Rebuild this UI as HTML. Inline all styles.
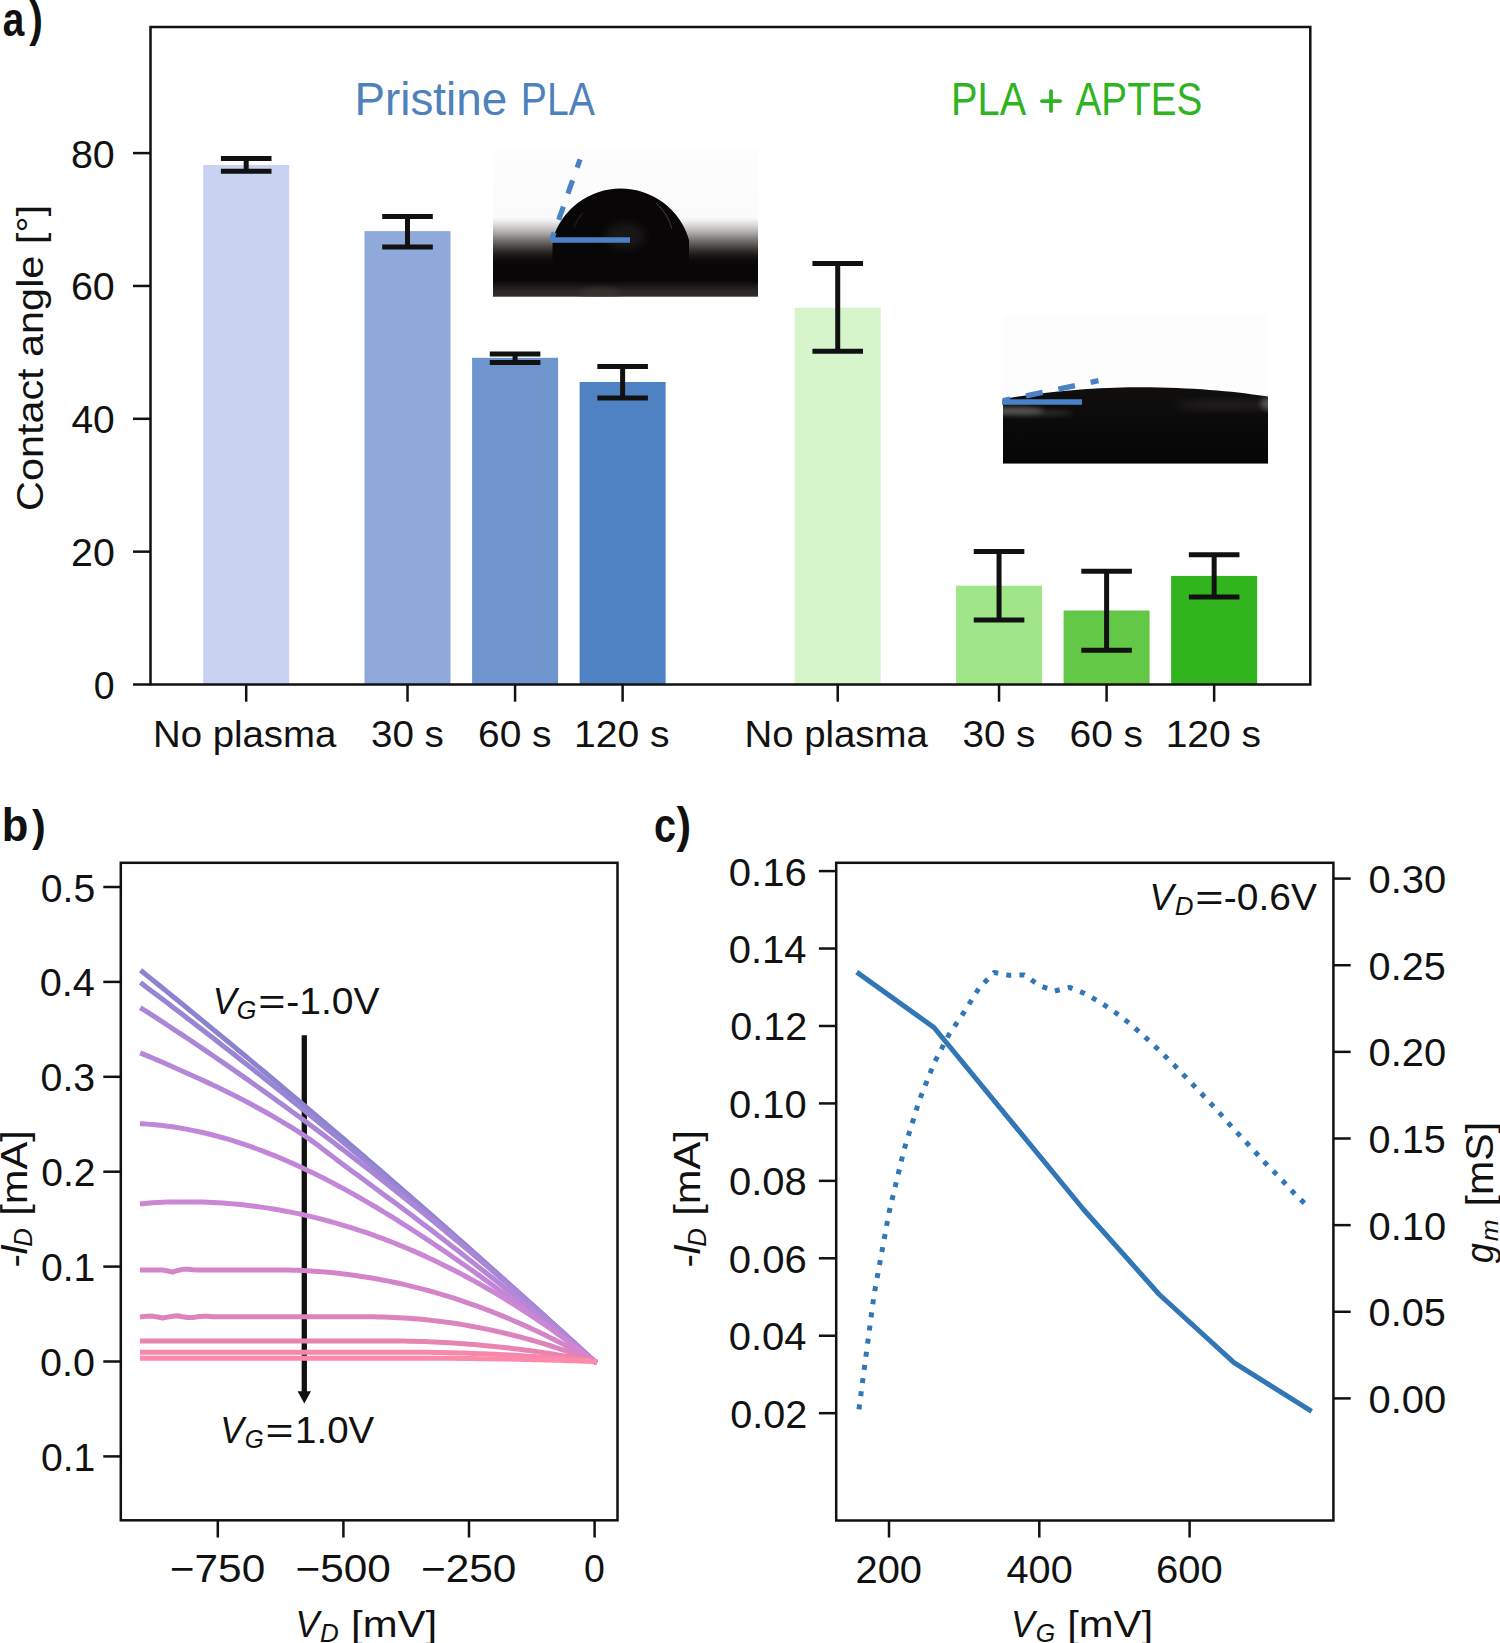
<!DOCTYPE html>
<html><head><meta charset="utf-8"><title>Figure</title>
<style>html,body{margin:0;padding:0;background:#fff;overflow:hidden}svg{display:block}</style>
</head><body>
<svg width="1500" height="1643" viewBox="0 0 1500 1643">
<rect width="1500" height="1643" fill="#ffffff"/>
<rect x="203.20" y="165.00" width="86.00" height="519.50" fill="#c9d3f1"/>
<rect x="364.52" y="231.10" width="86.00" height="453.40" fill="#8fa9da"/>
<rect x="472.08" y="357.80" width="86.00" height="326.70" fill="#6f95cf"/>
<rect x="579.62" y="382.00" width="86.00" height="302.50" fill="#4f82c3"/>
<rect x="794.72" y="307.70" width="86.00" height="376.80" fill="#d6f5cb"/>
<rect x="956.05" y="585.70" width="86.00" height="98.80" fill="#a1e589"/>
<rect x="1063.60" y="610.50" width="86.00" height="74.00" fill="#64c847"/>
<rect x="1171.15" y="575.90" width="86.00" height="108.60" fill="#32b41f"/>
<defs>
<linearGradient id="g1" x1="0" y1="0" x2="0" y2="1">
<stop offset="0.000" stop-color="#fdfdfd"/>
<stop offset="0.467" stop-color="#fbfbfb"/>
<stop offset="0.502" stop-color="#e6e6e6"/>
<stop offset="0.542" stop-color="#c6c3c2"/>
<stop offset="0.577" stop-color="#a6a3a1"/>
<stop offset="0.612" stop-color="#7f7b79"/>
<stop offset="0.647" stop-color="#5c5856"/>
<stop offset="0.682" stop-color="#393533"/>
<stop offset="0.717" stop-color="#1d1a19"/>
<stop offset="0.757" stop-color="#0c0a0a"/>
<stop offset="0.797" stop-color="#080606"/>
<stop offset="0.890" stop-color="#080606"/>
<stop offset="0.925" stop-color="#1a1716"/>
<stop offset="0.960" stop-color="#2a2625"/>
<stop offset="1.000" stop-color="#312d2b"/>
</linearGradient>
<radialGradient id="glow1" cx="0.5" cy="0.5" r="0.5">
<stop offset="0" stop-color="#2a2827"/>
<stop offset="1" stop-color="#2a2827" stop-opacity="0"/>
</radialGradient>
<linearGradient id="g2" x1="0" y1="0" x2="0" y2="1">
<stop offset="0" stop-color="#fdfdfd"/>
<stop offset="1" stop-color="#fdfdfd"/>
</linearGradient>
<linearGradient id="refl2" x1="0" y1="0" x2="1" y2="0">
<stop offset="0" stop-color="#8a8685" stop-opacity="0.9"/>
<stop offset="0.35" stop-color="#5a5655" stop-opacity="0.6"/>
<stop offset="1" stop-color="#2a2625" stop-opacity="0"/>
</linearGradient>
<linearGradient id="refl2r" x1="1" y1="0" x2="0" y2="0">
<stop offset="0" stop-color="#6a6665" stop-opacity="0.8"/>
<stop offset="0.25" stop-color="#2a2625" stop-opacity="0.5"/>
<stop offset="1" stop-color="#2a2625" stop-opacity="0"/>
</linearGradient>
<filter color-interpolation-filters="sRGB" id="bl07" x="-5%" y="-5%" width="110%" height="110%"><feGaussianBlur stdDeviation="0.7"/></filter>
<filter color-interpolation-filters="sRGB" id="bl25" x="-50%" y="-50%" width="200%" height="200%"><feGaussianBlur stdDeviation="2.5"/></filter>
<filter color-interpolation-filters="sRGB" id="bl4" x="-50%" y="-50%" width="200%" height="200%"><feGaussianBlur stdDeviation="4"/></filter>
<linearGradient id="drop2" gradientUnits="userSpaceOnUse" x1="0" y1="387" x2="0" y2="464">
<stop offset="0" stop-color="#100f0e"/><stop offset="0.5" stop-color="#0b0a0a"/><stop offset="1" stop-color="#070606"/></linearGradient>
<clipPath id="clip1"><rect x="493" y="148" width="265" height="148.7"/></clipPath>
<clipPath id="clip2"><rect x="1003" y="315" width="265" height="148.8"/></clipPath>
</defs>
<rect x="493.00" y="148.00" width="265.00" height="148.70" fill="url(#g1)"/>
<g clip-path="url(#clip1)">
<path d="M552.5,275 L552.5,240 A71,71 0 0 1 689.0,240 L689.0,275 Z" fill="#080606" filter="url(#bl07)"/>
<ellipse cx="625" cy="236" rx="20" ry="13" fill="#262423" opacity="0.6" filter="url(#bl4)"/>
<path d="M656,203 Q668,214 672,229" fill="none" stroke="#5a5656" stroke-width="1.1" opacity="0.55"/>
<path d="M574,228 Q577,219 583,213" fill="none" stroke="#3a3636" stroke-width="1.1" opacity="0.5"/>
<ellipse cx="600" cy="294" rx="22" ry="6" fill="#3a3634" opacity="0.8" filter="url(#bl25)"/>
</g>
<line x1="551.00" y1="240.00" x2="630.00" y2="240.00" stroke="#4a82c7" stroke-width="5.4" stroke-linecap="butt" />
<line x1="551.80" y1="239.30" x2="580.04" y2="159.33" stroke="#4a82c7" stroke-width="5.2" stroke-linecap="butt" stroke-dasharray="14 13.7" stroke-dashoffset="7"/>
<rect x="1003.00" y="315.00" width="265.00" height="148.80" fill="#fdfdfd"/>
<g clip-path="url(#clip2)">
<path d="M1003,399 C1060,388.5 1120,386.7 1150,387.2 C1200,388 1240,392 1268,396.6 L1268,463.8 L1003,463.8 Z" fill="url(#drop2)" filter="url(#bl07)"/>
<ellipse cx="1014" cy="411" rx="30" ry="4" fill="#8a8685" opacity="0.6" filter="url(#bl25)"/>
<ellipse cx="1045" cy="413" rx="28" ry="3" fill="#5a5655" opacity="0.4" filter="url(#bl25)"/>
<ellipse cx="1270" cy="404" rx="10" ry="6" fill="#8a8685" opacity="0.7" filter="url(#bl25)"/>
<ellipse cx="1225" cy="405" rx="50" ry="4" fill="#2c2a29" opacity="0.8" filter="url(#bl4)"/>
</g>
<line x1="1002.00" y1="402.00" x2="1082.00" y2="402.00" stroke="#4a82c7" stroke-width="5.5" stroke-linecap="butt" />
<line x1="1003.00" y1="400.60" x2="1098.45" y2="380.71" stroke="#4a82c7" stroke-width="5.4" stroke-linecap="butt" stroke-dasharray="17 16" stroke-dashoffset="9.5"/>
<line x1="246.20" y1="158.50" x2="246.20" y2="171.30" stroke="#111111" stroke-width="5.0" stroke-linecap="butt" />
<line x1="220.90" y1="158.50" x2="271.50" y2="158.50" stroke="#111111" stroke-width="5.0" stroke-linecap="butt" />
<line x1="220.90" y1="171.30" x2="271.50" y2="171.30" stroke="#111111" stroke-width="5.0" stroke-linecap="butt" />
<line x1="407.52" y1="216.50" x2="407.52" y2="247.00" stroke="#111111" stroke-width="5.0" stroke-linecap="butt" />
<line x1="382.22" y1="216.50" x2="432.82" y2="216.50" stroke="#111111" stroke-width="5.0" stroke-linecap="butt" />
<line x1="382.22" y1="247.00" x2="432.82" y2="247.00" stroke="#111111" stroke-width="5.0" stroke-linecap="butt" />
<line x1="515.08" y1="353.90" x2="515.08" y2="362.50" stroke="#111111" stroke-width="5.0" stroke-linecap="butt" />
<line x1="489.78" y1="353.90" x2="540.38" y2="353.90" stroke="#111111" stroke-width="5.0" stroke-linecap="butt" />
<line x1="489.78" y1="362.50" x2="540.38" y2="362.50" stroke="#111111" stroke-width="5.0" stroke-linecap="butt" />
<line x1="622.62" y1="366.50" x2="622.62" y2="398.00" stroke="#111111" stroke-width="5.0" stroke-linecap="butt" />
<line x1="597.33" y1="366.50" x2="647.92" y2="366.50" stroke="#111111" stroke-width="5.0" stroke-linecap="butt" />
<line x1="597.33" y1="398.00" x2="647.92" y2="398.00" stroke="#111111" stroke-width="5.0" stroke-linecap="butt" />
<line x1="837.72" y1="263.60" x2="837.72" y2="351.30" stroke="#111111" stroke-width="5.0" stroke-linecap="butt" />
<line x1="812.42" y1="263.60" x2="863.02" y2="263.60" stroke="#111111" stroke-width="5.0" stroke-linecap="butt" />
<line x1="812.42" y1="351.30" x2="863.02" y2="351.30" stroke="#111111" stroke-width="5.0" stroke-linecap="butt" />
<line x1="999.05" y1="551.50" x2="999.05" y2="620.00" stroke="#111111" stroke-width="5.0" stroke-linecap="butt" />
<line x1="973.75" y1="551.50" x2="1024.35" y2="551.50" stroke="#111111" stroke-width="5.0" stroke-linecap="butt" />
<line x1="973.75" y1="620.00" x2="1024.35" y2="620.00" stroke="#111111" stroke-width="5.0" stroke-linecap="butt" />
<line x1="1106.60" y1="571.20" x2="1106.60" y2="650.20" stroke="#111111" stroke-width="5.0" stroke-linecap="butt" />
<line x1="1081.30" y1="571.20" x2="1131.90" y2="571.20" stroke="#111111" stroke-width="5.0" stroke-linecap="butt" />
<line x1="1081.30" y1="650.20" x2="1131.90" y2="650.20" stroke="#111111" stroke-width="5.0" stroke-linecap="butt" />
<line x1="1214.15" y1="554.70" x2="1214.15" y2="597.10" stroke="#111111" stroke-width="5.0" stroke-linecap="butt" />
<line x1="1188.85" y1="554.70" x2="1239.45" y2="554.70" stroke="#111111" stroke-width="5.0" stroke-linecap="butt" />
<line x1="1188.85" y1="597.10" x2="1239.45" y2="597.10" stroke="#111111" stroke-width="5.0" stroke-linecap="butt" />
<rect x="150.50" y="27.00" width="1159.80" height="657.50" fill="none" stroke="#111111" stroke-width="2.5"/>
<line x1="133.00" y1="684.50" x2="150.50" y2="684.50" stroke="#111" stroke-width="2.5" stroke-linecap="butt" />
<text font-family="Liberation Sans, sans-serif" font-size="38.43" fill="#111111" transform="translate(93.82,699.00) scale(0.9746,1)">0</text>
<line x1="133.00" y1="551.65" x2="150.50" y2="551.65" stroke="#111" stroke-width="2.5" stroke-linecap="butt" />
<text font-family="Liberation Sans, sans-serif" font-size="38.43" fill="#111111" transform="translate(71.11,566.15) scale(1.0213,1)">20</text>
<line x1="133.00" y1="418.80" x2="150.50" y2="418.80" stroke="#111" stroke-width="2.5" stroke-linecap="butt" />
<text font-family="Liberation Sans, sans-serif" font-size="38.43" fill="#111111" transform="translate(71.40,433.30) scale(1.0142,1)">40</text>
<line x1="133.00" y1="285.95" x2="150.50" y2="285.95" stroke="#111" stroke-width="2.5" stroke-linecap="butt" />
<text font-family="Liberation Sans, sans-serif" font-size="38.43" fill="#111111" transform="translate(70.92,300.45) scale(1.0258,1)">60</text>
<line x1="133.00" y1="153.10" x2="150.50" y2="153.10" stroke="#111" stroke-width="2.5" stroke-linecap="butt" />
<text font-family="Liberation Sans, sans-serif" font-size="38.43" fill="#111111" transform="translate(70.94,167.60) scale(1.0253,1)">80</text>
<line x1="246.20" y1="684.50" x2="246.20" y2="701.70" stroke="#111" stroke-width="2.5" stroke-linecap="butt" />
<text font-family="Liberation Sans, sans-serif" font-size="37.10" fill="#111111" transform="translate(153.02,747.20) scale(1.0335,1)">No plasma</text>
<line x1="407.52" y1="684.50" x2="407.52" y2="701.70" stroke="#111" stroke-width="2.5" stroke-linecap="butt" />
<text font-family="Liberation Sans, sans-serif" font-size="37.10" fill="#111111" transform="translate(370.96,747.20) scale(1.0402,1)">30 s</text>
<line x1="515.08" y1="684.50" x2="515.08" y2="701.70" stroke="#111" stroke-width="2.5" stroke-linecap="butt" />
<text font-family="Liberation Sans, sans-serif" font-size="37.10" fill="#111111" transform="translate(478.02,747.20) scale(1.0486,1)">60 s</text>
<line x1="622.62" y1="684.50" x2="622.62" y2="701.70" stroke="#111" stroke-width="2.5" stroke-linecap="butt" />
<text font-family="Liberation Sans, sans-serif" font-size="37.10" fill="#111111" transform="translate(574.11,747.20) scale(1.0524,1)">120 s</text>
<line x1="837.72" y1="684.50" x2="837.72" y2="701.70" stroke="#111" stroke-width="2.5" stroke-linecap="butt" />
<text font-family="Liberation Sans, sans-serif" font-size="37.10" fill="#111111" transform="translate(744.55,747.20) scale(1.0335,1)">No plasma</text>
<line x1="999.05" y1="684.50" x2="999.05" y2="701.70" stroke="#111" stroke-width="2.5" stroke-linecap="butt" />
<text font-family="Liberation Sans, sans-serif" font-size="37.10" fill="#111111" transform="translate(962.48,747.20) scale(1.0402,1)">30 s</text>
<line x1="1106.60" y1="684.50" x2="1106.60" y2="701.70" stroke="#111" stroke-width="2.5" stroke-linecap="butt" />
<text font-family="Liberation Sans, sans-serif" font-size="37.10" fill="#111111" transform="translate(1069.54,747.20) scale(1.0486,1)">60 s</text>
<line x1="1214.15" y1="684.50" x2="1214.15" y2="701.70" stroke="#111" stroke-width="2.5" stroke-linecap="butt" />
<text font-family="Liberation Sans, sans-serif" font-size="37.10" fill="#111111" transform="translate(1165.64,747.20) scale(1.0524,1)">120 s</text>
<text font-family="Liberation Sans, sans-serif" font-size="37.29" fill="#111111" transform="translate(43.10,510.97) rotate(-90) scale(1.1100,1)">Contact angle [°]</text>
<text font-family="Liberation Sans, sans-serif" font-size="46.52" fill="#4f81bd" transform="translate(354.43,115.40) scale(0.9850,1)">Pristine</text>
<text font-family="Liberation Sans, sans-serif" font-size="46.52" fill="#4f81bd" transform="translate(520.77,115.40) scale(0.8420,1)">PLA</text>
<text font-family="Liberation Sans, sans-serif" font-size="46.38" fill="#2fb320" transform="translate(951.02,115.40) scale(0.8577,1)">PLA</text>
<line x1="1041.90" y1="101.10" x2="1060.10" y2="101.10" stroke="#2fb320" stroke-width="3.8" stroke-linecap="round" />
<line x1="1051.00" y1="91.10" x2="1051.00" y2="110.90" stroke="#2fb320" stroke-width="3.8" stroke-linecap="round" />
<text font-family="Liberation Sans, sans-serif" font-size="46.38" fill="#2fb320" transform="translate(1075.60,115.40) scale(0.8331,1)">APTES</text>
<text font-family="Liberation Sans, sans-serif" font-size="47.41" fill="#111111" font-weight="bold" transform="translate(2.84,36.30) scale(0.8162,1)">a</text>
<text font-family="Liberation Sans, sans-serif" font-size="50.07" fill="#111111" font-weight="bold" transform="translate(29.30,36.30) scale(0.8199,1)">)</text>
<rect x="120.80" y="862.80" width="496.70" height="657.50" fill="none" stroke="#111111" stroke-width="2.5"/>
<line x1="103.30" y1="887.00" x2="120.80" y2="887.00" stroke="#111" stroke-width="2.5" stroke-linecap="butt" />
<text font-family="Liberation Sans, sans-serif" font-size="38.43" fill="#111111" transform="translate(40.77,901.50) scale(1.0183,1)">0.5</text>
<line x1="103.30" y1="981.90" x2="120.80" y2="981.90" stroke="#111" stroke-width="2.5" stroke-linecap="butt" />
<text font-family="Liberation Sans, sans-serif" font-size="38.43" fill="#111111" transform="translate(39.68,996.40) scale(1.0317,1)">0.4</text>
<line x1="103.30" y1="1076.80" x2="120.80" y2="1076.80" stroke="#111" stroke-width="2.5" stroke-linecap="butt" />
<text font-family="Liberation Sans, sans-serif" font-size="38.43" fill="#111111" transform="translate(40.59,1091.30) scale(1.0219,1)">0.3</text>
<line x1="103.30" y1="1171.70" x2="120.80" y2="1171.70" stroke="#111" stroke-width="2.5" stroke-linecap="butt" />
<text font-family="Liberation Sans, sans-serif" font-size="38.43" fill="#111111" transform="translate(41.31,1186.20) scale(1.0155,1)">0.2</text>
<line x1="103.30" y1="1266.60" x2="120.80" y2="1266.60" stroke="#111" stroke-width="2.5" stroke-linecap="butt" />
<text font-family="Liberation Sans, sans-serif" font-size="38.43" fill="#111111" transform="translate(40.95,1281.10) scale(1.0187,1)">0.1</text>
<line x1="103.30" y1="1361.50" x2="120.80" y2="1361.50" stroke="#111" stroke-width="2.5" stroke-linecap="butt" />
<text font-family="Liberation Sans, sans-serif" font-size="38.43" fill="#111111" transform="translate(40.04,1376.00) scale(1.0285,1)">0.0</text>
<line x1="103.30" y1="1456.40" x2="120.80" y2="1456.40" stroke="#111" stroke-width="2.5" stroke-linecap="butt" />
<text font-family="Liberation Sans, sans-serif" font-size="38.43" fill="#111111" transform="translate(40.95,1470.90) scale(1.0187,1)">0.1</text>
<line x1="217.80" y1="1520.30" x2="217.80" y2="1537.50" stroke="#111" stroke-width="2.5" stroke-linecap="butt" />
<text font-family="Liberation Sans, sans-serif" font-size="38.43" fill="#111111" transform="translate(169.85,1582.30) scale(1.1018,1)">−750</text>
<line x1="343.40" y1="1520.30" x2="343.40" y2="1537.50" stroke="#111" stroke-width="2.5" stroke-linecap="butt" />
<text font-family="Liberation Sans, sans-serif" font-size="38.43" fill="#111111" transform="translate(295.45,1582.30) scale(1.1018,1)">−500</text>
<line x1="469.00" y1="1520.30" x2="469.00" y2="1537.50" stroke="#111" stroke-width="2.5" stroke-linecap="butt" />
<text font-family="Liberation Sans, sans-serif" font-size="38.43" fill="#111111" transform="translate(421.05,1582.30) scale(1.1018,1)">−250</text>
<line x1="594.60" y1="1520.30" x2="594.60" y2="1537.50" stroke="#111" stroke-width="2.5" stroke-linecap="butt" />
<text font-family="Liberation Sans, sans-serif" font-size="38.43" fill="#111111" transform="translate(584.11,1582.30) scale(0.9746,1)">0</text>
<line x1="304.30" y1="1035.30" x2="304.30" y2="1392.00" stroke="#111111" stroke-width="5.3" stroke-linecap="butt" />
<path d="M297.6,1391.3 L311.0,1391.3 L304.3,1403.5 Z" fill="#111111"/>
<path d="M142.44,971.80 L147.46,975.85 L152.49,979.91 L157.51,983.97 L162.54,988.04 L167.56,992.12 L172.58,996.20 L177.61,1000.29 L182.63,1004.39 L187.66,1008.49 L192.68,1012.60 L197.70,1016.71 L202.73,1020.83 L207.75,1024.96 L212.78,1029.09 L217.80,1033.23 L222.82,1037.38 L227.85,1041.53 L232.87,1045.69 L237.90,1049.85 L242.92,1054.02 L247.94,1058.20 L252.97,1062.38 L257.99,1066.57 L263.02,1070.77 L268.04,1074.97 L273.06,1079.18 L278.09,1083.39 L283.11,1087.61 L288.14,1091.84 L293.16,1096.07 L298.18,1100.31 L303.21,1104.56 L308.23,1108.81 L313.26,1113.07 L318.28,1117.33 L323.30,1121.60 L328.33,1125.88 L333.35,1130.16 L338.38,1134.45 L343.40,1138.75 L348.42,1143.05 L353.45,1147.36 L358.47,1151.67 L363.50,1155.99 L368.52,1160.32 L373.54,1164.65 L378.57,1168.99 L383.59,1173.34 L388.62,1177.69 L393.64,1182.05 L398.66,1186.41 L403.69,1190.78 L408.71,1195.16 L413.74,1199.54 L418.76,1203.93 L423.78,1208.33 L428.81,1212.73 L433.83,1217.14 L438.86,1221.55 L443.88,1225.97 L448.90,1230.40 L453.93,1234.83 L458.95,1239.27 L463.98,1243.72 L469.00,1248.17 L474.02,1252.63 L479.05,1257.09 L484.07,1261.56 L489.10,1266.04 L494.12,1270.52 L499.14,1275.01 L504.17,1279.51 L509.19,1284.01 L514.22,1288.52 L519.24,1293.03 L524.26,1297.55 L529.29,1302.08 L534.31,1306.61 L539.34,1311.15 L544.36,1315.70 L549.38,1320.25 L554.41,1324.81 L559.43,1329.37 L564.46,1333.94 L569.48,1338.52 L574.50,1343.10 L579.53,1347.69 L584.55,1352.29 L589.58,1356.89 L594.60,1361.50" fill="none" stroke="#8b83cf" stroke-width="5.0" stroke-linecap="square" stroke-linejoin="round" />
<path d="M142.44,984.10 L147.46,987.88 L152.49,991.67 L157.51,995.46 L162.54,999.27 L167.56,1003.09 L172.58,1006.91 L177.61,1010.75 L182.63,1014.59 L187.66,1018.44 L192.68,1022.31 L197.70,1026.18 L202.73,1030.06 L207.75,1033.95 L212.78,1037.85 L217.80,1041.76 L222.82,1045.68 L227.85,1049.60 L232.87,1053.54 L237.90,1057.49 L242.92,1061.44 L247.94,1065.41 L252.97,1069.38 L257.99,1073.37 L263.02,1077.36 L268.04,1081.36 L273.06,1085.37 L278.09,1089.39 L283.11,1093.42 L288.14,1097.46 L293.16,1101.51 L298.18,1105.57 L303.21,1109.64 L308.23,1113.72 L313.26,1117.80 L318.28,1121.90 L323.30,1126.00 L328.33,1130.12 L333.35,1134.24 L338.38,1138.37 L343.40,1142.51 L348.42,1146.67 L353.45,1150.83 L358.47,1155.00 L363.50,1159.18 L368.52,1163.37 L373.54,1167.56 L378.57,1171.77 L383.59,1175.99 L388.62,1180.21 L393.64,1184.45 L398.66,1188.69 L403.69,1192.95 L408.71,1197.21 L413.74,1201.48 L418.76,1205.76 L423.78,1210.06 L428.81,1214.36 L433.83,1218.67 L438.86,1222.98 L443.88,1227.31 L448.90,1231.65 L453.93,1236.00 L458.95,1240.35 L463.98,1244.72 L469.00,1249.10 L474.02,1253.48 L479.05,1257.87 L484.07,1262.28 L489.10,1266.69 L494.12,1271.11 L499.14,1275.54 L504.17,1279.98 L509.19,1284.43 L514.22,1288.89 L519.24,1293.36 L524.26,1297.84 L529.29,1302.32 L534.31,1306.82 L539.34,1311.32 L544.36,1315.84 L549.38,1320.36 L554.41,1324.90 L559.43,1329.44 L564.46,1333.99 L569.48,1338.55 L574.50,1343.12 L579.53,1347.70 L584.55,1352.29 L589.58,1356.89 L594.60,1361.50" fill="none" stroke="#9985d3" stroke-width="5.0" stroke-linecap="square" stroke-linejoin="round" />
<path d="M142.44,1009.00 L147.46,1012.22 L152.49,1015.45 L157.51,1018.71 L162.54,1021.97 L167.56,1025.25 L172.58,1028.55 L177.61,1031.87 L182.63,1035.19 L187.66,1038.54 L192.68,1041.90 L197.70,1045.28 L202.73,1048.67 L207.75,1052.08 L212.78,1055.50 L217.80,1058.94 L222.82,1062.39 L227.85,1065.86 L232.87,1069.35 L237.90,1072.85 L242.92,1076.37 L247.94,1079.90 L252.97,1083.45 L257.99,1087.01 L263.02,1090.59 L268.04,1094.19 L273.06,1097.80 L278.09,1101.43 L283.11,1105.07 L288.14,1108.73 L293.16,1112.40 L298.18,1116.09 L303.21,1119.79 L308.23,1123.52 L313.26,1127.25 L318.28,1131.00 L323.30,1134.77 L328.33,1138.56 L333.35,1142.35 L338.38,1146.17 L343.40,1150.00 L348.42,1153.85 L353.45,1157.71 L358.47,1161.59 L363.50,1165.48 L368.52,1169.39 L373.54,1173.31 L378.57,1177.25 L383.59,1181.21 L388.62,1185.18 L393.64,1189.17 L398.66,1193.17 L403.69,1197.19 L408.71,1201.22 L413.74,1205.27 L418.76,1209.34 L423.78,1213.42 L428.81,1217.52 L433.83,1221.63 L438.86,1225.76 L443.88,1229.90 L448.90,1234.06 L453.93,1238.23 L458.95,1242.43 L463.98,1246.63 L469.00,1250.85 L474.02,1255.09 L479.05,1259.35 L484.07,1263.61 L489.10,1267.90 L494.12,1272.20 L499.14,1276.52 L504.17,1280.85 L509.19,1285.20 L514.22,1289.56 L519.24,1293.94 L524.26,1298.33 L529.29,1302.74 L534.31,1307.17 L539.34,1311.61 L544.36,1316.07 L549.38,1320.54 L554.41,1325.03 L559.43,1329.53 L564.46,1334.05 L569.48,1338.59 L574.50,1343.14 L579.53,1347.71 L584.55,1352.29 L589.58,1356.89 L594.60,1361.50" fill="none" stroke="#a986d6" stroke-width="5.0" stroke-linecap="square" stroke-linejoin="round" />
<path d="M142.44,1053.80 L147.46,1055.90 L152.49,1058.02 L157.51,1060.16 L162.54,1062.32 L167.56,1064.51 L172.58,1066.71 L177.61,1068.95 L182.63,1071.20 L187.66,1073.46 L192.68,1075.73 L197.70,1078.01 L202.73,1080.30 L207.75,1082.62 L212.78,1084.96 L217.80,1087.34 L222.82,1089.75 L227.85,1092.21 L232.87,1094.71 L237.90,1097.27 L242.92,1099.88 L247.94,1102.53 L252.97,1105.22 L257.99,1107.95 L263.02,1110.72 L268.04,1113.54 L273.06,1116.41 L278.09,1119.34 L283.11,1122.32 L288.14,1125.37 L293.16,1128.48 L298.18,1131.67 L303.21,1134.92 L308.23,1138.30 L313.26,1141.86 L318.28,1145.58 L323.30,1149.39 L328.33,1153.25 L333.35,1157.12 L338.38,1160.94 L343.40,1164.69 L348.42,1168.42 L353.45,1172.14 L358.47,1175.86 L363.50,1179.57 L368.52,1183.28 L373.54,1186.99 L378.57,1190.70 L383.59,1194.41 L388.62,1198.13 L393.64,1201.85 L398.66,1205.59 L403.69,1209.33 L408.71,1213.08 L413.74,1216.85 L418.76,1220.64 L423.78,1224.44 L428.81,1228.27 L433.83,1232.11 L438.86,1235.98 L443.88,1239.86 L448.90,1243.76 L453.93,1247.67 L458.95,1251.59 L463.98,1255.51 L469.00,1259.45 L474.02,1263.40 L479.05,1267.36 L484.07,1271.33 L489.10,1275.31 L494.12,1279.30 L499.14,1283.30 L504.17,1287.31 L509.19,1291.33 L514.22,1295.37 L519.24,1299.41 L524.26,1303.47 L529.29,1307.54 L534.31,1311.62 L539.34,1315.71 L544.36,1319.81 L549.38,1323.92 L554.41,1328.05 L559.43,1332.19 L564.46,1336.34 L569.48,1340.50 L574.50,1344.68 L579.53,1348.86 L584.55,1353.06 L589.58,1357.28 L594.60,1361.50" fill="none" stroke="#b786d8" stroke-width="5.0" stroke-linecap="square" stroke-linejoin="round" />
<path d="M142.44,1123.80 L147.46,1124.12 L152.49,1124.51 L157.51,1124.98 L162.54,1125.53 L167.56,1126.15 L172.58,1126.85 L177.61,1127.62 L182.63,1128.47 L187.66,1129.38 L192.68,1130.37 L197.70,1131.43 L202.73,1132.55 L207.75,1133.75 L212.78,1135.01 L217.80,1136.34 L222.82,1137.73 L227.85,1139.19 L232.87,1140.72 L237.90,1142.30 L242.92,1143.95 L247.94,1145.66 L252.97,1147.43 L257.99,1149.26 L263.02,1151.15 L268.04,1153.10 L273.06,1155.10 L278.09,1157.16 L283.11,1159.27 L288.14,1161.44 L293.16,1163.66 L298.18,1165.94 L303.21,1168.26 L308.23,1170.64 L313.26,1173.07 L318.28,1175.54 L323.30,1178.07 L328.33,1180.64 L333.35,1183.26 L338.38,1185.92 L343.40,1188.63 L348.42,1191.38 L353.45,1194.17 L358.47,1197.01 L363.50,1199.89 L368.52,1202.81 L373.54,1205.76 L378.57,1208.76 L383.59,1211.79 L388.62,1214.86 L393.64,1217.97 L398.66,1221.11 L403.69,1224.28 L408.71,1227.49 L413.74,1230.73 L418.76,1234.00 L423.78,1237.30 L428.81,1240.64 L433.83,1244.00 L438.86,1247.39 L443.88,1250.80 L448.90,1254.24 L453.93,1257.71 L458.95,1261.20 L463.98,1264.72 L469.00,1268.26 L474.02,1271.82 L479.05,1275.40 L484.07,1279.00 L489.10,1282.62 L494.12,1286.26 L499.14,1289.91 L504.17,1293.58 L509.19,1297.27 L514.22,1300.97 L519.24,1304.69 L524.26,1308.42 L529.29,1312.16 L534.31,1315.91 L539.34,1319.67 L544.36,1323.45 L549.38,1327.23 L554.41,1331.02 L559.43,1334.81 L564.46,1338.61 L569.48,1342.42 L574.50,1346.23 L579.53,1350.05 L584.55,1353.86 L589.58,1357.68 L594.60,1361.50" fill="none" stroke="#c286d8" stroke-width="5.0" stroke-linecap="square" stroke-linejoin="round" />
<path d="M142.44,1203.80 L147.46,1203.24 L152.49,1202.79 L157.51,1202.42 L162.54,1202.15 L167.56,1201.98 L172.58,1201.90 L177.61,1201.90 L182.63,1201.90 L187.66,1201.90 L192.68,1201.92 L197.70,1202.00 L202.73,1202.12 L207.75,1202.29 L212.78,1202.51 L217.80,1202.78 L222.82,1203.09 L227.85,1203.46 L232.87,1203.87 L237.90,1204.33 L242.92,1204.84 L247.94,1205.40 L252.97,1206.01 L257.99,1206.67 L263.02,1207.37 L268.04,1208.13 L273.06,1208.93 L278.09,1209.78 L283.11,1210.68 L288.14,1211.63 L293.16,1212.63 L298.18,1213.67 L303.21,1214.77 L308.23,1215.91 L313.26,1217.10 L318.28,1218.34 L323.30,1219.63 L328.33,1220.97 L333.35,1222.36 L338.38,1223.79 L343.40,1225.28 L348.42,1226.81 L353.45,1228.39 L358.47,1230.02 L363.50,1231.70 L368.52,1233.43 L373.54,1235.20 L378.57,1237.03 L383.59,1238.90 L388.62,1240.82 L393.64,1242.79 L398.66,1244.81 L403.69,1246.88 L408.71,1248.99 L413.74,1251.16 L418.76,1253.37 L423.78,1255.64 L428.81,1257.95 L433.83,1260.31 L438.86,1262.71 L443.88,1265.17 L448.90,1267.68 L453.93,1270.23 L458.95,1272.83 L463.98,1275.48 L469.00,1278.18 L474.02,1280.93 L479.05,1283.73 L484.07,1286.58 L489.10,1289.47 L494.12,1292.42 L499.14,1295.41 L504.17,1298.45 L509.19,1301.54 L514.22,1304.68 L519.24,1307.86 L524.26,1311.10 L529.29,1314.38 L534.31,1317.71 L539.34,1321.10 L544.36,1324.53 L549.38,1328.00 L554.41,1331.53 L559.43,1335.11 L564.46,1338.73 L569.48,1342.40 L574.50,1346.13 L579.53,1349.90 L584.55,1353.72 L589.58,1357.58 L594.60,1361.50" fill="none" stroke="#cb86d4" stroke-width="5.0" stroke-linecap="square" stroke-linejoin="round" />
<path d="M142.44,1270.00 L147.46,1270.00 L152.49,1270.00 L157.51,1270.00 L162.54,1270.06 L167.56,1271.00 L172.58,1272.16 L177.61,1270.45 L182.63,1269.34 L187.66,1269.34 L192.68,1269.84 L197.70,1269.99 L202.73,1270.00 L207.75,1270.00 L212.78,1270.00 L217.80,1270.00 L222.82,1270.00 L227.85,1270.00 L232.87,1270.00 L237.90,1270.00 L242.92,1270.00 L247.94,1270.00 L252.97,1270.00 L257.99,1270.00 L263.02,1270.00 L268.04,1270.00 L273.06,1270.00 L278.09,1270.00 L283.11,1270.02 L288.14,1270.09 L293.16,1270.21 L298.18,1270.37 L303.21,1270.58 L308.23,1270.83 L313.26,1271.13 L318.28,1271.48 L323.30,1271.87 L328.33,1272.31 L333.35,1272.79 L338.38,1273.32 L343.40,1273.90 L348.42,1274.52 L353.45,1275.19 L358.47,1275.90 L363.50,1276.66 L368.52,1277.47 L373.54,1278.32 L378.57,1279.22 L383.59,1280.17 L388.62,1281.16 L393.64,1282.20 L398.66,1283.28 L403.69,1284.41 L408.71,1285.58 L413.74,1286.81 L418.76,1288.07 L423.78,1289.39 L428.81,1290.75 L433.83,1292.15 L438.86,1293.61 L443.88,1295.11 L448.90,1296.65 L453.93,1298.24 L458.95,1299.88 L463.98,1301.56 L469.00,1303.29 L474.02,1305.06 L479.05,1306.89 L484.07,1308.75 L489.10,1310.67 L494.12,1312.63 L499.14,1314.63 L504.17,1316.68 L509.19,1318.78 L514.22,1320.93 L519.24,1323.12 L524.26,1325.35 L529.29,1327.63 L534.31,1329.96 L539.34,1332.34 L544.36,1334.76 L549.38,1337.22 L554.41,1339.74 L559.43,1342.30 L564.46,1344.90 L569.48,1347.55 L574.50,1350.25 L579.53,1352.99 L584.55,1355.78 L589.58,1358.62 L594.60,1361.50" fill="none" stroke="#d485c9" stroke-width="5.0" stroke-linecap="square" stroke-linejoin="round" />
<path d="M142.44,1316.77 L147.46,1316.13 L152.49,1316.12 L157.51,1316.95 L162.54,1317.98 L167.56,1317.11 L172.58,1316.23 L177.61,1315.78 L182.63,1316.81 L187.66,1317.44 L192.68,1317.40 L197.70,1316.80 L202.73,1316.31 L207.75,1316.36 L212.78,1316.75 L217.80,1316.80 L222.82,1316.80 L227.85,1316.80 L232.87,1316.80 L237.90,1316.80 L242.92,1316.80 L247.94,1316.80 L252.97,1316.80 L257.99,1316.80 L263.02,1316.80 L268.04,1316.80 L273.06,1316.80 L278.09,1316.80 L283.11,1316.80 L288.14,1316.80 L293.16,1316.80 L298.18,1316.80 L303.21,1316.80 L308.23,1316.80 L313.26,1316.80 L318.28,1316.80 L323.30,1316.80 L328.33,1316.80 L333.35,1316.80 L338.38,1316.80 L343.40,1316.80 L348.42,1316.80 L353.45,1316.80 L358.47,1316.80 L363.50,1316.80 L368.52,1316.80 L373.54,1316.84 L378.57,1316.91 L383.59,1317.03 L388.62,1317.20 L393.64,1317.41 L398.66,1317.66 L403.69,1317.95 L408.71,1318.29 L413.74,1318.67 L418.76,1319.10 L423.78,1319.57 L428.81,1320.08 L433.83,1320.64 L438.86,1321.24 L443.88,1321.89 L448.90,1322.57 L453.93,1323.31 L458.95,1324.08 L463.98,1324.90 L469.00,1325.76 L474.02,1326.67 L479.05,1327.62 L484.07,1328.61 L489.10,1329.65 L494.12,1330.73 L499.14,1331.85 L504.17,1333.02 L509.19,1334.23 L514.22,1335.49 L519.24,1336.79 L524.26,1338.13 L529.29,1339.51 L534.31,1340.94 L539.34,1342.42 L544.36,1343.93 L549.38,1345.49 L554.41,1347.10 L559.43,1348.75 L564.46,1350.44 L569.48,1352.17 L574.50,1353.95 L579.53,1355.77 L584.55,1357.64 L589.58,1359.55 L594.60,1361.50" fill="none" stroke="#dd83bd" stroke-width="5.0" stroke-linecap="square" stroke-linejoin="round" />
<path d="M142.44,1341.00 L147.46,1341.00 L152.49,1341.00 L157.51,1341.00 L162.54,1341.00 L167.56,1341.00 L172.58,1341.00 L177.61,1341.00 L182.63,1341.00 L187.66,1341.00 L192.68,1341.00 L197.70,1341.00 L202.73,1341.00 L207.75,1341.00 L212.78,1341.00 L217.80,1341.00 L222.82,1341.00 L227.85,1341.00 L232.87,1341.00 L237.90,1341.00 L242.92,1341.00 L247.94,1341.00 L252.97,1341.00 L257.99,1341.00 L263.02,1341.00 L268.04,1341.00 L273.06,1341.00 L278.09,1341.00 L283.11,1341.00 L288.14,1341.00 L293.16,1341.00 L298.18,1341.00 L303.21,1341.00 L308.23,1341.00 L313.26,1341.00 L318.28,1341.00 L323.30,1341.00 L328.33,1341.00 L333.35,1341.00 L338.38,1341.00 L343.40,1341.00 L348.42,1341.00 L353.45,1341.00 L358.47,1341.00 L363.50,1341.00 L368.52,1341.00 L373.54,1341.00 L378.57,1341.00 L383.59,1341.00 L388.62,1341.00 L393.64,1341.02 L398.66,1341.05 L403.69,1341.12 L408.71,1341.21 L413.74,1341.32 L418.76,1341.46 L423.78,1341.62 L428.81,1341.80 L433.83,1342.01 L438.86,1342.24 L443.88,1342.50 L448.90,1342.78 L453.93,1343.09 L458.95,1343.42 L463.98,1343.77 L469.00,1344.15 L474.02,1344.56 L479.05,1344.98 L484.07,1345.43 L489.10,1345.91 L494.12,1346.41 L499.14,1346.93 L504.17,1347.48 L509.19,1348.06 L514.22,1348.65 L519.24,1349.27 L524.26,1349.92 L529.29,1350.59 L534.31,1351.28 L539.34,1352.00 L544.36,1352.74 L549.38,1353.51 L554.41,1354.30 L559.43,1355.12 L564.46,1355.96 L569.48,1356.82 L574.50,1357.71 L579.53,1358.62 L584.55,1359.55 L589.58,1360.52 L594.60,1361.50" fill="none" stroke="#e884b2" stroke-width="5.0" stroke-linecap="square" stroke-linejoin="round" />
<path d="M142.44,1352.20 L147.46,1352.20 L152.49,1352.20 L157.51,1352.20 L162.54,1352.20 L167.56,1352.20 L172.58,1352.20 L177.61,1352.20 L182.63,1352.20 L187.66,1352.20 L192.68,1352.20 L197.70,1352.20 L202.73,1352.20 L207.75,1352.20 L212.78,1352.20 L217.80,1352.20 L222.82,1352.20 L227.85,1352.20 L232.87,1352.20 L237.90,1352.20 L242.92,1352.20 L247.94,1352.20 L252.97,1352.20 L257.99,1352.20 L263.02,1352.20 L268.04,1352.20 L273.06,1352.20 L278.09,1352.20 L283.11,1352.20 L288.14,1352.20 L293.16,1352.20 L298.18,1352.20 L303.21,1352.20 L308.23,1352.20 L313.26,1352.20 L318.28,1352.20 L323.30,1352.20 L328.33,1352.20 L333.35,1352.20 L338.38,1352.20 L343.40,1352.20 L348.42,1352.20 L353.45,1352.20 L358.47,1352.20 L363.50,1352.20 L368.52,1352.20 L373.54,1352.20 L378.57,1352.20 L383.59,1352.20 L388.62,1352.20 L393.64,1352.20 L398.66,1352.20 L403.69,1352.20 L408.71,1352.20 L413.74,1352.22 L418.76,1352.25 L423.78,1352.29 L428.81,1352.35 L433.83,1352.42 L438.86,1352.50 L443.88,1352.60 L448.90,1352.70 L453.93,1352.83 L458.95,1352.96 L463.98,1353.11 L469.00,1353.27 L474.02,1353.44 L479.05,1353.63 L484.07,1353.82 L489.10,1354.04 L494.12,1354.26 L499.14,1354.50 L504.17,1354.75 L509.19,1355.02 L514.22,1355.29 L519.24,1355.58 L524.26,1355.89 L529.29,1356.20 L534.31,1356.53 L539.34,1356.87 L544.36,1357.23 L549.38,1357.60 L554.41,1357.98 L559.43,1358.37 L564.46,1358.78 L569.48,1359.20 L574.50,1359.64 L579.53,1360.08 L584.55,1360.54 L589.58,1361.01 L594.60,1361.50" fill="none" stroke="#f788ac" stroke-width="5.0" stroke-linecap="square" stroke-linejoin="round" />
<path d="M142.44,1358.20 L147.46,1358.20 L152.49,1358.20 L157.51,1358.20 L162.54,1358.20 L167.56,1358.20 L172.58,1358.20 L177.61,1358.20 L182.63,1358.20 L187.66,1358.20 L192.68,1358.20 L197.70,1358.20 L202.73,1358.20 L207.75,1358.20 L212.78,1358.20 L217.80,1358.20 L222.82,1358.20 L227.85,1358.20 L232.87,1358.20 L237.90,1358.20 L242.92,1358.20 L247.94,1358.20 L252.97,1358.20 L257.99,1358.20 L263.02,1358.20 L268.04,1358.20 L273.06,1358.20 L278.09,1358.20 L283.11,1358.20 L288.14,1358.20 L293.16,1358.20 L298.18,1358.20 L303.21,1358.20 L308.23,1358.20 L313.26,1358.20 L318.28,1358.20 L323.30,1358.20 L328.33,1358.20 L333.35,1358.20 L338.38,1358.20 L343.40,1358.20 L348.42,1358.20 L353.45,1358.20 L358.47,1358.20 L363.50,1358.20 L368.52,1358.20 L373.54,1358.20 L378.57,1358.20 L383.59,1358.20 L388.62,1358.20 L393.64,1358.20 L398.66,1358.20 L403.69,1358.20 L408.71,1358.20 L413.74,1358.20 L418.76,1358.20 L423.78,1358.21 L428.81,1358.22 L433.83,1358.24 L438.86,1358.26 L443.88,1358.29 L448.90,1358.32 L453.93,1358.36 L458.95,1358.41 L463.98,1358.45 L469.00,1358.51 L474.02,1358.57 L479.05,1358.63 L484.07,1358.70 L489.10,1358.77 L494.12,1358.85 L499.14,1358.94 L504.17,1359.03 L509.19,1359.12 L514.22,1359.22 L519.24,1359.32 L524.26,1359.43 L529.29,1359.55 L534.31,1359.67 L539.34,1359.79 L544.36,1359.92 L549.38,1360.06 L554.41,1360.20 L559.43,1360.34 L564.46,1360.49 L569.48,1360.65 L574.50,1360.81 L579.53,1360.97 L584.55,1361.14 L589.58,1361.32 L594.60,1361.50" fill="none" stroke="#fc8aa8" stroke-width="5.0" stroke-linecap="square" stroke-linejoin="round" />
<text font-family="Liberation Sans, sans-serif" font-size="37.68" fill="#111111" font-style="italic" transform="translate(212.66,1014.00) scale(0.9490,1)">V</text>
<text font-family="Liberation Sans, sans-serif" font-size="26.29" fill="#111111" font-style="italic" transform="translate(236.74,1019.20) scale(0.9608,1)">G</text>
<text font-family="Liberation Sans, sans-serif" font-size="37.68" fill="#111111" transform="translate(258.37,1014.00) scale(1.2366,1)">=</text>
<text font-family="Liberation Sans, sans-serif" font-size="37.68" fill="#111111" transform="translate(286.24,1014.00) scale(1.0355,1)">-1.0V</text>
<text font-family="Liberation Sans, sans-serif" font-size="37.68" fill="#111111" font-style="italic" transform="translate(220.29,1442.70) scale(0.9409,1)">V</text>
<text font-family="Liberation Sans, sans-serif" font-size="26.29" fill="#111111" font-style="italic" transform="translate(244.78,1448.00) scale(0.9275,1)">G</text>
<text font-family="Liberation Sans, sans-serif" font-size="37.68" fill="#111111" transform="translate(265.60,1442.70) scale(1.2749,1)">=</text>
<text font-family="Liberation Sans, sans-serif" font-size="37.68" fill="#111111" transform="translate(295.11,1442.70) scale(1.0212,1)">1.0V</text>
<text font-family="Liberation Sans, sans-serif" font-size="37.83" fill="#111111" font-style="italic" transform="translate(295.47,1636.90) scale(0.9413,1)">V</text>
<text font-family="Liberation Sans, sans-serif" font-size="26.38" fill="#111111" font-style="italic" transform="translate(320.12,1642.40) scale(0.9823,1)">D</text>
<text font-family="Liberation Sans, sans-serif" font-size="37.83" fill="#111111" transform="translate(351.07,1636.90) scale(1.1072,1)">[mV]</text>
<text font-family="Liberation Sans, sans-serif" font-size="36.50" fill="#111111" transform="translate(26.80,1267.52) rotate(-90) scale(1.1071,1)">-</text>
<text font-family="Liberation Sans, sans-serif" font-size="37.39" fill="#111111" font-style="italic" transform="translate(26.80,1255.36) rotate(-90) scale(1.0460,1)">I</text>
<text font-family="Liberation Sans, sans-serif" font-size="26.09" fill="#111111" font-style="italic" transform="translate(32.40,1246.77) rotate(-90) scale(0.9874,1)">D</text>
<text font-family="Liberation Sans, sans-serif" font-size="37.39" fill="#111111" transform="translate(26.80,1215.82) rotate(-90) scale(1.1159,1)">[mA]</text>
<text font-family="Liberation Sans, sans-serif" font-size="46.21" fill="#111111" font-weight="bold" transform="translate(1.87,841.00) scale(0.9428,1)">b</text>
<text font-family="Liberation Sans, sans-serif" font-size="44.83" fill="#111111" font-weight="bold" transform="translate(32.00,841.00) scale(0.9158,1)">)</text>
<rect x="836.20" y="862.80" width="497.20" height="657.70" fill="none" stroke="#111111" stroke-width="2.5"/>
<line x1="818.90" y1="871.10" x2="836.20" y2="871.10" stroke="#111" stroke-width="2.5" stroke-linecap="butt" />
<text font-family="Liberation Sans, sans-serif" font-size="38.43" fill="#111111" transform="translate(728.84,885.60) scale(1.0431,1)">0.16</text>
<line x1="818.90" y1="948.54" x2="836.20" y2="948.54" stroke="#111" stroke-width="2.5" stroke-linecap="butt" />
<text font-family="Liberation Sans, sans-serif" font-size="38.43" fill="#111111" transform="translate(728.66,963.04) scale(1.0400,1)">0.14</text>
<line x1="818.90" y1="1025.98" x2="836.20" y2="1025.98" stroke="#111" stroke-width="2.5" stroke-linecap="butt" />
<text font-family="Liberation Sans, sans-serif" font-size="38.43" fill="#111111" transform="translate(730.28,1040.48) scale(1.0288,1)">0.12</text>
<line x1="818.90" y1="1103.42" x2="836.20" y2="1103.42" stroke="#111" stroke-width="2.5" stroke-linecap="butt" />
<text font-family="Liberation Sans, sans-serif" font-size="38.43" fill="#111111" transform="translate(729.02,1117.92) scale(1.0379,1)">0.10</text>
<line x1="818.90" y1="1180.86" x2="836.20" y2="1180.86" stroke="#111" stroke-width="2.5" stroke-linecap="butt" />
<text font-family="Liberation Sans, sans-serif" font-size="38.43" fill="#111111" transform="translate(729.02,1195.36) scale(1.0406,1)">0.08</text>
<line x1="818.90" y1="1258.30" x2="836.20" y2="1258.30" stroke="#111" stroke-width="2.5" stroke-linecap="butt" />
<text font-family="Liberation Sans, sans-serif" font-size="38.43" fill="#111111" transform="translate(728.84,1272.80) scale(1.0431,1)">0.06</text>
<line x1="818.90" y1="1335.74" x2="836.20" y2="1335.74" stroke="#111" stroke-width="2.5" stroke-linecap="butt" />
<text font-family="Liberation Sans, sans-serif" font-size="38.43" fill="#111111" transform="translate(728.66,1350.24) scale(1.0400,1)">0.04</text>
<line x1="818.90" y1="1413.18" x2="836.20" y2="1413.18" stroke="#111" stroke-width="2.5" stroke-linecap="butt" />
<text font-family="Liberation Sans, sans-serif" font-size="38.43" fill="#111111" transform="translate(730.28,1427.68) scale(1.0288,1)">0.02</text>
<line x1="1333.40" y1="878.59" x2="1350.70" y2="878.59" stroke="#111" stroke-width="2.5" stroke-linecap="butt" />
<text font-family="Liberation Sans, sans-serif" font-size="38.43" fill="#111111" transform="translate(1368.60,893.09) scale(1.0379,1)">0.30</text>
<line x1="1333.40" y1="965.23" x2="1350.70" y2="965.23" stroke="#111" stroke-width="2.5" stroke-linecap="butt" />
<text font-family="Liberation Sans, sans-serif" font-size="38.43" fill="#111111" transform="translate(1368.62,979.73) scale(1.0307,1)">0.25</text>
<line x1="1333.40" y1="1051.86" x2="1350.70" y2="1051.86" stroke="#111" stroke-width="2.5" stroke-linecap="butt" />
<text font-family="Liberation Sans, sans-serif" font-size="38.43" fill="#111111" transform="translate(1368.60,1066.36) scale(1.0379,1)">0.20</text>
<line x1="1333.40" y1="1138.50" x2="1350.70" y2="1138.50" stroke="#111" stroke-width="2.5" stroke-linecap="butt" />
<text font-family="Liberation Sans, sans-serif" font-size="38.43" fill="#111111" transform="translate(1368.62,1153.00) scale(1.0307,1)">0.15</text>
<line x1="1333.40" y1="1225.13" x2="1350.70" y2="1225.13" stroke="#111" stroke-width="2.5" stroke-linecap="butt" />
<text font-family="Liberation Sans, sans-serif" font-size="38.43" fill="#111111" transform="translate(1368.60,1239.63) scale(1.0379,1)">0.10</text>
<line x1="1333.40" y1="1311.77" x2="1350.70" y2="1311.77" stroke="#111" stroke-width="2.5" stroke-linecap="butt" />
<text font-family="Liberation Sans, sans-serif" font-size="38.43" fill="#111111" transform="translate(1368.62,1326.27) scale(1.0307,1)">0.05</text>
<line x1="1333.40" y1="1398.40" x2="1350.70" y2="1398.40" stroke="#111" stroke-width="2.5" stroke-linecap="butt" />
<text font-family="Liberation Sans, sans-serif" font-size="38.43" fill="#111111" transform="translate(1368.60,1412.90) scale(1.0379,1)">0.00</text>
<line x1="889.00" y1="1520.50" x2="889.00" y2="1537.50" stroke="#111" stroke-width="2.5" stroke-linecap="butt" />
<text font-family="Liberation Sans, sans-serif" font-size="38.43" fill="#111111" transform="translate(855.50,1582.50) scale(1.0378,1)">200</text>
<line x1="1039.30" y1="1520.50" x2="1039.30" y2="1537.50" stroke="#111" stroke-width="2.5" stroke-linecap="butt" />
<text font-family="Liberation Sans, sans-serif" font-size="38.43" fill="#111111" transform="translate(1006.56,1582.50) scale(1.0328,1)">400</text>
<line x1="1189.60" y1="1520.50" x2="1189.60" y2="1537.50" stroke="#111" stroke-width="2.5" stroke-linecap="butt" />
<text font-family="Liberation Sans, sans-serif" font-size="38.43" fill="#111111" transform="translate(1156.01,1582.50) scale(1.0407,1)">600</text>
<path d="M858.80,973.60 L934.00,1027.50 L1084.00,1210.00 L1159.30,1294.50 L1234.00,1362.70 L1309.50,1410.00" fill="none" stroke="#3176b5" stroke-width="5.0" stroke-linecap="square" stroke-linejoin="round" />
<path d="M858.94,1409.30 L873.97,1295.19 L889.00,1212.58 L904.03,1149.73 L919.06,1101.02 L934.09,1063.08 L949.12,1034.36 L964.15,1012.01 L979.18,987.82 L994.21,972.55 L1009.24,975.37 L1024.27,975.00 L1039.30,985.37 L1054.33,991.13 L1069.36,987.42 L1084.39,993.31 L1099.42,1001.89 L1114.45,1011.76 L1129.48,1023.36 L1144.51,1036.44 L1159.54,1050.68 L1174.57,1065.57 L1189.60,1081.12 L1204.63,1096.93 L1219.66,1113.13 L1234.69,1130.02 L1249.72,1146.09 L1264.75,1162.39 L1279.78,1177.74 L1294.81,1193.98 L1309.84,1208.30" fill="none" stroke="#3176b5" stroke-width="5.0" stroke-linecap="butt" stroke-linejoin="round" stroke-dasharray="5 8.25"/>
<text font-family="Liberation Sans, sans-serif" font-size="37.68" fill="#111111" font-style="italic" transform="translate(1149.61,909.90) scale(0.9650,1)">V</text>
<text font-family="Liberation Sans, sans-serif" font-size="26.38" fill="#111111" font-style="italic" transform="translate(1174.72,915.20) scale(0.9823,1)">D</text>
<text font-family="Liberation Sans, sans-serif" font-size="37.68" fill="#111111" transform="translate(1195.18,909.90) scale(1.2859,1)">=</text>
<text font-family="Liberation Sans, sans-serif" font-size="37.68" fill="#111111" transform="translate(1223.75,909.90) scale(1.0343,1)">-0.6V</text>
<text font-family="Liberation Sans, sans-serif" font-size="37.83" fill="#111111" font-style="italic" transform="translate(1011.09,1636.80) scale(0.9373,1)">V</text>
<text font-family="Liberation Sans, sans-serif" font-size="26.29" fill="#111111" font-style="italic" transform="translate(1035.75,1641.60) scale(0.9497,1)">G</text>
<text font-family="Liberation Sans, sans-serif" font-size="37.83" fill="#111111" transform="translate(1067.18,1636.80) scale(1.1044,1)">[mV]</text>
<text font-family="Liberation Sans, sans-serif" font-size="36.50" fill="#111111" transform="translate(700.10,1267.42) rotate(-90) scale(1.1071,1)">-</text>
<text font-family="Liberation Sans, sans-serif" font-size="37.39" fill="#111111" font-style="italic" transform="translate(700.10,1255.26) rotate(-90) scale(1.0460,1)">I</text>
<text font-family="Liberation Sans, sans-serif" font-size="26.09" fill="#111111" font-style="italic" transform="translate(705.70,1246.67) rotate(-90) scale(0.9874,1)">D</text>
<text font-family="Liberation Sans, sans-serif" font-size="37.39" fill="#111111" transform="translate(700.10,1215.72) rotate(-90) scale(1.1159,1)">[mA]</text>
<text font-family="Liberation Sans, sans-serif" font-size="38.30" fill="#111111" font-style="italic" transform="translate(1493.10,1263.30) rotate(-90) scale(0.9437,1)">g</text>
<text font-family="Liberation Sans, sans-serif" font-size="24.72" fill="#111111" font-style="italic" transform="translate(1498.00,1241.19) rotate(-90) scale(1.0614,1)">m</text>
<text font-family="Liberation Sans, sans-serif" font-size="38.29" fill="#111111" transform="translate(1493.10,1206.48) rotate(-90) scale(1.0748,1)">[mS]</text>
<text font-family="Liberation Sans, sans-serif" font-size="48.15" fill="#111111" font-weight="bold" transform="translate(653.92,842.40) scale(0.8222,1)">c</text>
<text font-family="Liberation Sans, sans-serif" font-size="49.66" fill="#111111" font-weight="bold" transform="translate(676.50,842.40) scale(0.8833,1)">)</text>
</svg>
</body></html>
